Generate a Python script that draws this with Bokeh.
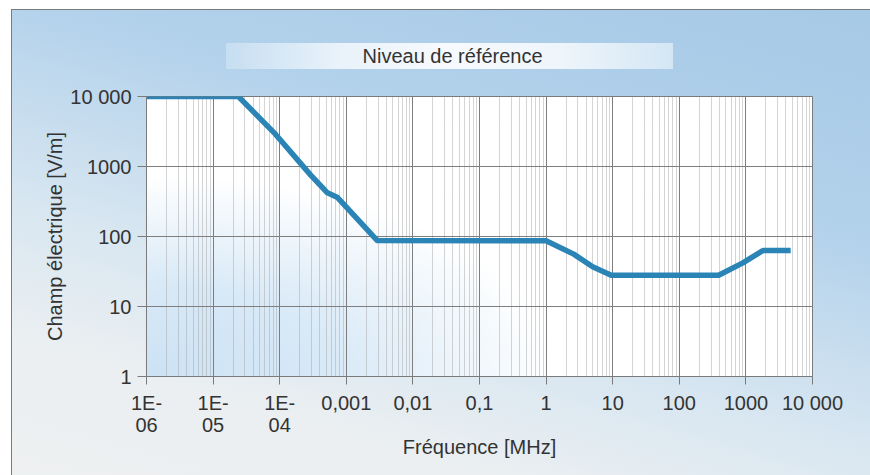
from bokeh.plotting import figure
from bokeh.models import FixedTicker, Range1d, Title
from bokeh.embed import file_html
from bokeh.resources import INLINE

# ---- data (frequency in MHz, field in V/m) ----
freq_mhz = [1e-6, 2.4e-5, 8.7e-5, 2.9e-4, 5.2e-4, 7.4e-4, 2.9e-3,
            1.0, 2.6, 5.0, 9.5, 390.0, 900.0, 1800.0, 4700.0]
field_vm = [10000, 10000, 2870, 760, 420, 360, 88,
            87, 56, 37, 28, 28, 42, 63, 63]

x_ticks = [1e-6, 1e-5, 1e-4, 1e-3, 1e-2, 1e-1, 1, 10, 100, 1000, 10000]
x_tick_labels = ["1E-\n06", "1E-\n05", "1E-\n04", "0,001", "0,01", "0,1",
                 "1", "10", "100", "1000", "10 000"]
y_ticks = [1, 10, 100, 1000, 10000]
y_tick_labels = ["1", "10", "100", "1000", "10 000"]

title_text = "Niveau de référence"
x_label = "Fréquence [MHz]"
y_label = "Champ électrique [V/m]"

FONT = "Liberation Sans"
TXT = "#333333"

x_minor = [m * t for t in x_ticks[:-1] for m in range(2, 10)]

panel_css = ", ".join([
    # title box
    "linear-gradient(to right, #c6def1 0%, #e9f2fa 25%, #f7fafd 50%, #eef5fb 75%, #d4e6f4 100%) 226px 43px / 447px 26px no-repeat",
    # plot area background
    "radial-gradient(ellipse 62% 72% at 0% 100%, #cce2f4 0%, #d8e9f7 45%, #ffffff 100%) 146px 96px / 666px 280px no-repeat",
    # panel border lines
    "linear-gradient(#7a7a7a, #7a7a7a) 11px 9px / 1px 100% no-repeat",
    "linear-gradient(#7a7a7a, #7a7a7a) 11px 9px / 100% 1px no-repeat",
    # panel gradient
    "linear-gradient(196deg, #a6c9e6 0%, #b2d1eb 32%, #d9e7f1 62%, #ebeff1 80%, #eef0f1 100%) 11px 9px / 100% 100% no-repeat",
    "#ffffff",
])

p = figure(width=870, height=475, x_axis_type="log", y_axis_type="log",
           x_range=Range1d(1e-6, 1e4), y_range=Range1d(1, 1e4),
           output_backend="svg", toolbar_location=None,
           min_border_left=146, min_border_right=58,
           min_border_top=96, min_border_bottom=99,
           styles={"background": panel_css})

p.title = Title(text=title_text, align="left", offset=216, standoff=60,
                text_font=FONT, text_font_size="20px",
                text_font_style="normal", text_color=TXT,
                vertical_align="bottom")

p.border_fill_color = None
p.background_fill_color = None
p.outline_line_color = "#7a7a7a"
p.outline_line_width = 1

p.line(freq_mhz, field_vm, line_color="#2a84b6", line_width=5.5,
       line_join="round", line_cap="butt")

# axes
p.xaxis.ticker = FixedTicker(ticks=x_ticks, minor_ticks=x_minor)
p.yaxis.ticker = FixedTicker(ticks=y_ticks, minor_ticks=[])
p.xaxis.major_label_overrides = dict(zip(x_ticks, x_tick_labels))
p.yaxis.major_label_overrides = dict(zip(y_ticks, y_tick_labels))

for ax in (p.xaxis, p.yaxis):
    ax.axis_line_color = "#7a7a7a"
    ax.major_tick_line_color = "#7a7a7a"
    ax.major_tick_in = 0
    ax.minor_tick_in = 0
    ax.minor_tick_out = 0
    ax.major_label_text_font = FONT
    ax.major_label_text_font_size = "20px"
    ax.major_label_text_color = TXT
    ax.axis_label_text_font = FONT
    ax.axis_label_text_font_size = "20px"
    ax.axis_label_text_font_style = "normal"
    ax.axis_label_text_color = TXT

p.xaxis.major_tick_out = 8
p.xaxis.major_label_standoff = 7
p.xaxis.major_label_text_line_height = 1.0
p.xaxis.axis_label = x_label
p.xaxis.axis_label_standoff = -3

p.yaxis.major_tick_out = 9
p.yaxis.major_label_standoff = 6
p.yaxis.axis_label = y_label
p.yaxis.axis_label_standoff = 1

# grids
p.xgrid.grid_line_color = "#7e7e7e"
p.ygrid.grid_line_color = "#7e7e7e"
p.xgrid.grid_line_width = 1
p.ygrid.grid_line_width = 1
p.xgrid.minor_grid_line_color = "#a8a8a8"
p.xgrid.minor_grid_line_dash = "1 1"
p.xgrid.minor_grid_line_width = 1

open("out.html", "w").write(file_html(p, INLINE))
